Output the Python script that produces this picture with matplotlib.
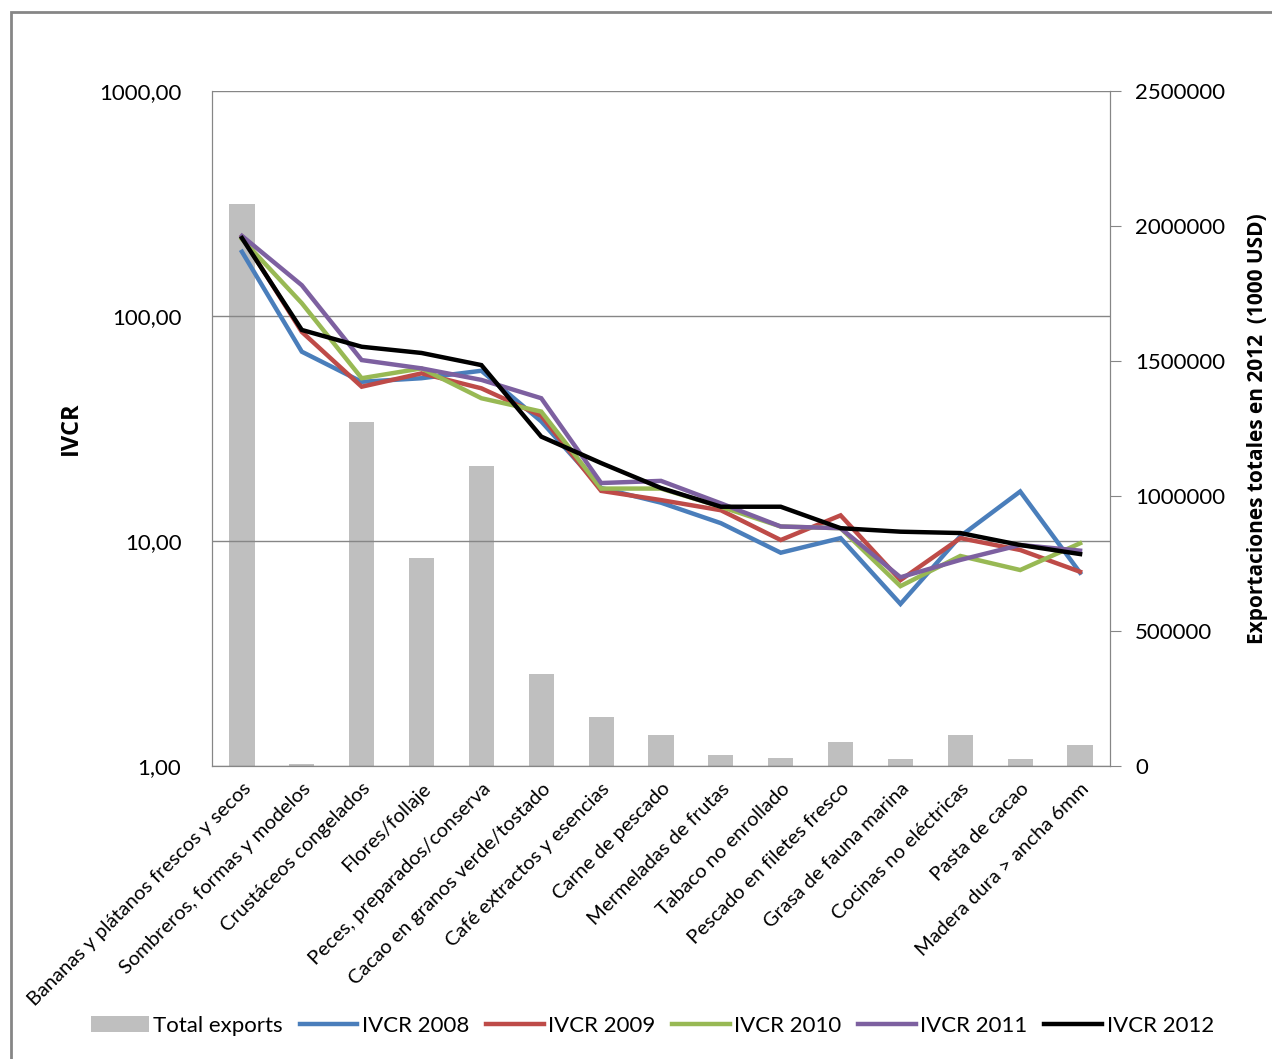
import matplotlib.pyplot as plt
import matplotlib.ticker as mticker
from matplotlib.patches import Rectangle
import numpy as np

plt.rcParams['font.family'] = ['Lato', 'DejaVu Sans']

categorias = ['Bananas y plátanos frescos y secos', 'Sombreros, formas y modelos',
              'Crustáceos congelados', 'Flores/follaje', 'Peces, preparados/conserva',
              'Cacao en granos verde/tostado', 'Café extractos y esencias',
              'Carne de pescado', 'Mermeladas de frutas', 'Tabaco no enrollado',
              'Pescado en filetes fresco', 'Grasa de fauna marina',
              'Cocinas no eléctricas', 'Pasta de cacao', 'Madera dura > ancha 6mm']

total_exports = [2081000, 7000, 1274000, 770000, 1111000, 341000, 181000, 116000,
                 39600, 30900, 87700, 24700, 116000, 24700, 76500]

ivcr_2008 = [193, 69.4, 51, 52.9, 57.1, 34, 17.2, 14.8, 12.0, 8.87, 10.3, 5.25, 10.5, 16.6, 7.23]
ivcr_2009 = [225, 85, 48.5, 55.6, 47.7, 36, 16.7, 15.2, 13.7, 10.1, 13.0, 6.7, 10.3, 9.12, 7.3]
ivcr_2010 = [220, 114, 52.9, 58.5, 43.1, 37.6, 17.1, 17.1, 14.2, 11.6, 11.4, 6.3, 8.58, 7.43, 9.77]
ivcr_2011 = [227, 137, 63.7, 58.5, 52, 43.1, 18.1, 18.5, 14.7, 11.6, 11.4, 6.9, 8.24, 9.6, 9.06]
ivcr_2012 = [222, 86.7, 73, 68.5, 60.5, 29.1, 22.2, 17.2, 14.2, 14.2, 11.4, 11.0, 10.85, 9.6, 8.75]

series = [('IVCR 2008', ivcr_2008, '#4a7ebb'),
          ('IVCR 2009', ivcr_2009, '#be4b48'),
          ('IVCR 2010', ivcr_2010, '#98b954'),
          ('IVCR 2011', ivcr_2011, '#7d60a0'),
          ('IVCR 2012', ivcr_2012, '#000000')]

fig = plt.figure(figsize=(12.72, 10.59), dpi=100)
fig.patches.append(Rectangle((11 / 1272, -0.1), 1.2, 1 - 12 / 1059 + 0.1,
                             transform=fig.transFigure, fill=False,
                             edgecolor='#868686', linewidth=2))

ax = fig.add_axes([212 / 1272, 1 - 766 / 1059, 898 / 1272, 675 / 1059])
ax2 = ax.twinx()

x = np.arange(len(categorias))

# barras en el eje secundario, lineas en el eje principal (log)
ax2.bar(x, total_exports, width=0.42, color='#bfbfbf', label='Total exports', zorder=1)
ax2.set_ylim(0, 2500000)
ax2.set_yticks(np.arange(0, 2500001, 500000))
ax2.yaxis.set_major_formatter(mticker.FuncFormatter(lambda v, p: '%d' % v))
ax2.tick_params(axis='y', labelsize=16, colors='#868686', labelcolor='black',
                length=8, direction='out', pad=10)
ax2.set_ylabel('Exportaciones totales en 2012  (1000 USD)', fontsize=15,
               fontweight='bold', family=['Open Sans', 'DejaVu Sans'], labelpad=16)

ax.set_zorder(ax2.get_zorder() + 1)
ax.patch.set_visible(False)

for nombre, vals, col in series:
    ax.plot(x, vals, color=col, linewidth=3.2, label=nombre, solid_joinstyle='miter')

ax.set_yscale('log')
ax.set_ylim(1, 1000)
ax.set_xlim(-0.5, len(categorias) - 0.5)
ax.yaxis.set_major_locator(mticker.FixedLocator([1, 10, 100, 1000]))
ax.yaxis.set_minor_locator(mticker.NullLocator())
ax.yaxis.set_major_formatter(mticker.FuncFormatter(lambda v, p: ('%.2f' % v).replace('.', ',')))
ax.grid(axis='y', color='#868686', linewidth=1)
ax.tick_params(axis='y', labelsize=16, length=0, pad=22)
ax.set_ylabel('IVCR', fontsize=17, fontweight='bold',
              family=['Open Sans', 'DejaVu Sans'], labelpad=12)

ax.set_xticks(x)
ax.set_xticklabels(categorias, rotation=45, ha='right', rotation_mode='anchor', fontsize=14.5)
ax.tick_params(axis='x', length=0, pad=10)

for a in (ax, ax2):
    for s in a.spines.values():
        s.set_color('#868686')
    a.spines['top'].set_visible(False)

h1, l1 = ax2.get_legend_handles_labels()
h2, l2 = ax.get_legend_handles_labels()
fig.legend(h1 + h2, l1 + l2, loc='center', bbox_to_anchor=(0.513, 1 - 1026 / 1059),
           ncol=6, frameon=False, fontsize=16, handlelength=2.6, handletextpad=0.2,
           columnspacing=0.75)

fig.savefig('out.png', dpi=100)
